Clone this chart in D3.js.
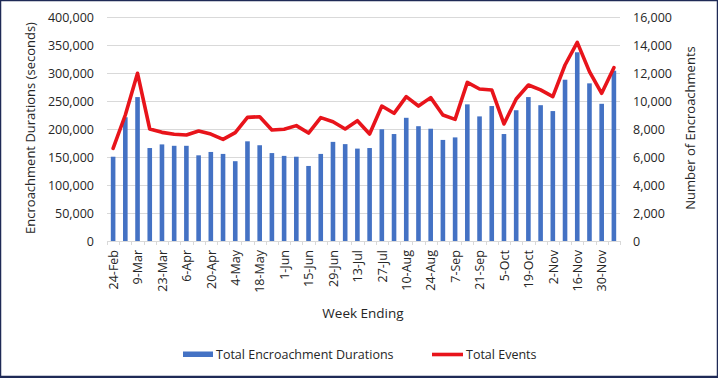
<!DOCTYPE html>
<html><head><meta charset="utf-8">
<script src="https://cdn.jsdelivr.net/npm/d3@7"></script>
<style>
html,body{margin:0;padding:0;background:#fff;}
svg{display:block;font-family:"Open Sans","Noto Sans",sans-serif;}
</style></head>
<body>
<svg id="chart" width="718" height="378"></svg>
<script>
const weeks = ["24-Feb","2-Mar","9-Mar","16-Mar","23-Mar","30-Mar","6-Apr","13-Apr","20-Apr","27-Apr","4-May","11-May","18-May","25-May","1-Jun","8-Jun","15-Jun","22-Jun","29-Jun","6-Jul","13-Jul","20-Jul","27-Jul","3-Aug","10-Aug","17-Aug","24-Aug","31-Aug","7-Sep","14-Sep","21-Sep","28-Sep","5-Oct","12-Oct","19-Oct","26-Oct","2-Nov","9-Nov","16-Nov","23-Nov","30-Nov","7-Dec"];
const durations = [150500,221000,257000,166000,172500,170000,170000,153000,159000,155500,142500,178000,171000,157000,152000,150500,134000,155500,177000,173000,165000,166000,199500,191000,220000,205000,200500,180500,185000,244000,222500,241000,191000,233500,257000,242500,232000,288000,337000,281500,245000,304000];
const events = [6620,9000,11980,8000,7760,7620,7570,7860,7640,7260,7740,8830,8880,7930,7980,8240,7710,8810,8520,8000,8590,7640,9640,9120,10310,9640,10240,9000,8690,11330,10860,10790,8360,10140,11140,10790,10310,12570,14190,12100,10550,12380];
const leftTicks = [0,50000,100000,150000,200000,250000,300000,350000,400000];
const rightTicks = [0,2000,4000,6000,8000,10000,12000,14000,16000];
const labels = {left:"Encroachment Durations (seconds)", right:"Number of Encroachments", x:"Week Ending", s1:"Total Encroachment Durations", s2:"Total Events"};

const svg = d3.select("#chart");
const W=718,H=378;
const m = {l:107, r:620, t:17, b:241};
const fmt = d3.format(",");
const x = d3.scaleBand().domain(weeks).range([m.l, m.r]).paddingInner(0).paddingOuter(0);
const yL = d3.scaleLinear().domain([0,400000]).range([m.b, m.t]);
const yR = d3.scaleLinear().domain([0,16000]).range([m.b, m.t]);
const fs = 12.5, tc = "#262626";

// border
svg.append("rect").attr("x",0.5).attr("y",0.5).attr("width",W-1).attr("height",H-2)
  .attr("fill","none").attr("stroke","#1f2a56").attr("stroke-width",1.5);
svg.append("line").attr("x1",0).attr("x2",W).attr("y1",377).attr("y2",377).attr("stroke","#1f2a56").attr("stroke-width",2);

// gridlines
svg.append("g").selectAll("line").data(leftTicks.slice(1)).join("line")
  .attr("x1",m.l).attr("x2",m.r).attr("y1",d=>Math.round(yL(d))+0.5).attr("y2",d=>Math.round(yL(d))+0.5)
  .attr("stroke","#d9d9d9").attr("stroke-width",1);

// left axis
const gL = svg.append("g").attr("transform",`translate(${m.l},0)`)
  .call(d3.axisLeft(yL).tickValues(leftTicks).tickFormat(fmt).tickSize(0).tickPadding(13));
gL.select(".domain").remove();
gL.selectAll("text").attr("font-size",fs).attr("fill",tc).attr("font-family","'Open Sans',sans-serif");

// right axis
const gR = svg.append("g").attr("transform",`translate(${m.r},0)`)
  .call(d3.axisRight(yR).tickValues(rightTicks).tickFormat(fmt).tickSize(0).tickPadding(13));
gR.select(".domain").remove();
gR.selectAll("text").attr("font-size",fs).attr("fill",tc).attr("font-family","'Open Sans',sans-serif");

// bars
const bw = 4.6;
svg.append("g").selectAll("rect").data(weeks).join("rect")
  .attr("x",(d)=>x(d)+x.bandwidth()/2-bw/2)
  .attr("y",(d,i)=>yL(durations[i]))
  .attr("width",bw)
  .attr("height",(d,i)=>m.b-yL(durations[i]))
  .attr("fill","#4472c4");

// x axis
const gX = svg.append("g").attr("transform",`translate(0,${m.b})`)
  .call(d3.axisBottom(x).tickSize(0).tickFormat((d,i)=> i%2===0 ? d : ""));
gX.select(".domain").attr("stroke","#d9d9d9");
gX.selectAll("text").attr("font-size",fs).attr("fill",tc).attr("font-family","'Open Sans',sans-serif")
  .attr("transform","rotate(-90)").attr("text-anchor","end").attr("dx","-9").attr("dy","0.38em").attr("x",0).attr("y",0);
// tick marks at band edges
const edges = weeks.map(w=>x(w)).concat([m.r]);
svg.append("g").selectAll("line").data(edges).join("line")
  .attr("x1",d=>Math.round(d)+0.5).attr("x2",d=>Math.round(d)+0.5).attr("y1",m.b).attr("y2",m.b+4)
  .attr("stroke","#d9d9d9");

// line
const line = d3.line().x((d,i)=>x(weeks[i])+x.bandwidth()/2).y(d=>yR(d)).curve(d3.curveLinear);
svg.append("path").datum(events).attr("d",line).attr("fill","none")
  .attr("stroke","#e8141b").attr("stroke-width",3.6).attr("stroke-linejoin","round").attr("stroke-linecap","round");

// axis titles
svg.append("text").attr("transform","translate(35,128) rotate(-90)").attr("text-anchor","middle")
  .attr("font-size",13).attr("fill",tc).text(labels.left);
svg.append("text").attr("transform","translate(695,128) rotate(-90)").attr("text-anchor","middle")
  .attr("font-size",13).attr("fill",tc).text(labels.right);
svg.append("text").attr("x",363).attr("y",318).attr("text-anchor","middle")
  .attr("font-size",13.5).attr("fill",tc).text(labels.x);

// legend
const lg = svg.append("g");
lg.append("rect").attr("x",183).attr("y",351.5).attr("width",30).attr("height",5.5).attr("fill","#4472c4");
lg.append("text").attr("x",216).attr("y",358.5).attr("font-size",12.5).attr("fill",tc).text(labels.s1);
lg.append("line").attr("x1",432).attr("x2",463).attr("y1",354.5).attr("y2",354.5).attr("stroke","#e8141b").attr("stroke-width",3.6);
lg.append("text").attr("x",466).attr("y",358.5).attr("font-size",12.5).attr("fill",tc).text(labels.s2);
</script>
</body></html>
